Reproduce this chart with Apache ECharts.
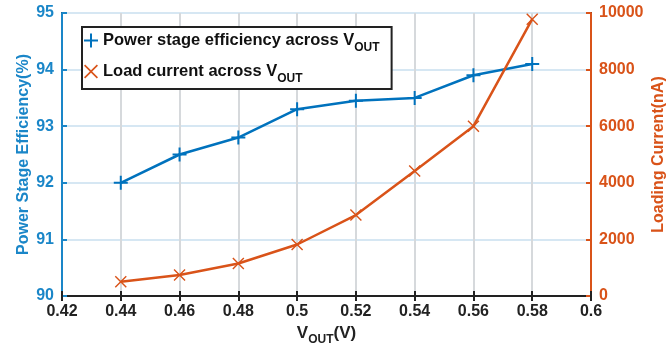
<!DOCTYPE html>
<html><head><meta charset="utf-8">
<script src="https://cdn.jsdelivr.net/npm/echarts@6/dist/echarts.min.js"></script>
<style>html,body{margin:0;padding:0;background:#fff}#c{width:669px;height:350px}</style>
</head><body><div id="c"></div>
<script>
const vout = [0.44, 0.46, 0.48, 0.5, 0.52, 0.54, 0.56, 0.58];
const efficiency = [92.0, 92.5, 92.8, 93.3, 93.45, 93.5, 93.9, 94.1];
const loadCurrent = [500, 740, 1150, 1820, 2860, 4420, 6000, 9780];
const seriesNames = ['Power stage efficiency across V_OUT', 'Load current across V_OUT'];

const BLUE = '#0072BD', ORANGE = '#D95319', LBLUE = '#1a86c8';
const FONT = "'Liberation Sans', Arial, sans-serif";
const plusPath = 'path://M-1,-7H1V-1H7V1H1V7H-1V1H-7V-1H-1Z';
const xPath = 'path://M-6,-5L-5,-6L0,-1L5,-6L6,-5L1,0L6,5L5,6L0,1L-5,6L-6,5L-1,0Z';
const fmt = v => String(parseFloat(Number(v).toFixed(2)));

const chart = echarts.init(document.getElementById('c'), null, {renderer: 'canvas'});
chart.setOption({
  animation: false,
  textStyle: {fontFamily: FONT, fontWeight: 'bold'},
  grid: {left: 62, right: 78, top: 13, bottom: 54, show: true, borderColor: '#222', borderWidth: 2,
         containLabel: false, outerBoundsMode: 'none'},
  legend: {
    orient: 'vertical', left: 82, top: 27,
    backgroundColor: '#fff', borderColor: '#222', borderWidth: 2, borderRadius: 0,
    padding: [5, 12, 4, 2], itemGap: 9, itemWidth: 14, itemHeight: 14,
    data: [{name: seriesNames[0], icon: plusPath}, {name: seriesNames[1], icon: xPath}],
    formatter: n => '{a|' + n.replace('_OUT', '') + '}{s|OUT}',
    textStyle: {
      rich: {
        a: {fontFamily: FONT, fontWeight: 'bold', fontSize: 16.5, color: '#111'},
        s: {fontFamily: FONT, fontWeight: 'bold', fontSize: 12, color: '#111', padding: [15, 0, 0, 0]}
      }
    }
  },
  xAxis: [{
    type: 'value', min: 0.42, max: 0.6, interval: 0.02,
    name: '{v|V}{s|OUT}{v|(V)}', nameLocation: 'middle', nameGap: 24, nameMoveOverlap: false,
    nameTextStyle: {rich: {
      v: {fontFamily: FONT, fontWeight: 'bold', fontSize: 17, color: '#222'},
      s: {fontFamily: FONT, fontWeight: 'bold', fontSize: 12, color: '#222', padding: [14, 0, 0, 0]}
    }},
    axisLine: {show: true, onZero: false, lineStyle: {color: '#222', width: 2}},
    axisTick: {inside: true, length: 5, lineStyle: {color: '#222', width: 2}},
    axisLabel: {formatter: fmt, color: '#222', fontSize: 16, fontWeight: 'bold', fontFamily: FONT, margin: 8},
    splitLine: {show: true, lineStyle: {color: '#d6d9dc', width: 2}}
  }, {
    type: 'value', position: 'top', min: 0.42, max: 0.6, interval: 0.02,
    axisLine: {show: true, lineStyle: {color: '#222', width: 2}},
    axisTick: {inside: true, length: 5, lineStyle: {color: '#222', width: 2}},
    axisLabel: {show: false}, splitLine: {show: false}
  }],
  yAxis: [{
    type: 'value', min: 90, max: 95, interval: 1, position: 'left',
    name: 'Power Stage Efficiency(%)', nameLocation: 'middle', nameGap: 30, nameMoveOverlap: false,
    nameTextStyle: {color: LBLUE, fontSize: 16, fontWeight: 'bold', fontFamily: FONT},
    axisLine: {show: true, lineStyle: {color: LBLUE, width: 2}},
    axisTick: {show: true, inside: true, length: 5, lineStyle: {color: LBLUE, width: 2}},
    axisLabel: {color: LBLUE, fontSize: 16, fontWeight: 'bold', fontFamily: FONT, margin: 8},
    splitLine: {show: true, lineStyle: {color: '#d6e7f3', width: 2}}
  }, {
    type: 'value', min: 0, max: 10000, interval: 2000, position: 'right',
    name: 'Loading Current(nA)', nameLocation: 'middle', nameGap: 60, nameRotate: 90, nameMoveOverlap: false,
    nameTextStyle: {color: ORANGE, fontSize: 16, fontWeight: 'bold', fontFamily: FONT},
    axisLine: {show: true, lineStyle: {color: ORANGE, width: 2}},
    axisTick: {show: true, inside: true, length: 5, lineStyle: {color: ORANGE, width: 2}},
    axisLabel: {formatter: v => String(v), color: ORANGE, fontSize: 16, fontWeight: 'bold', fontFamily: FONT, margin: 8},
    splitLine: {show: false}
  }],
  series: [{
    name: seriesNames[0], type: 'line', yAxisIndex: 0,
    data: vout.map((x, i) => [x, efficiency[i]]),
    symbol: plusPath, symbolSize: 14, showAllSymbol: true,
    lineStyle: {color: BLUE, width: 2.5}, itemStyle: {color: BLUE}
  }, {
    name: seriesNames[1], type: 'line', yAxisIndex: 1,
    data: vout.map((x, i) => [x, loadCurrent[i]]),
    symbol: xPath, symbolSize: 12, showAllSymbol: true,
    lineStyle: {color: ORANGE, width: 2.5}, itemStyle: {color: ORANGE}
  }]
});
</script></body></html>
